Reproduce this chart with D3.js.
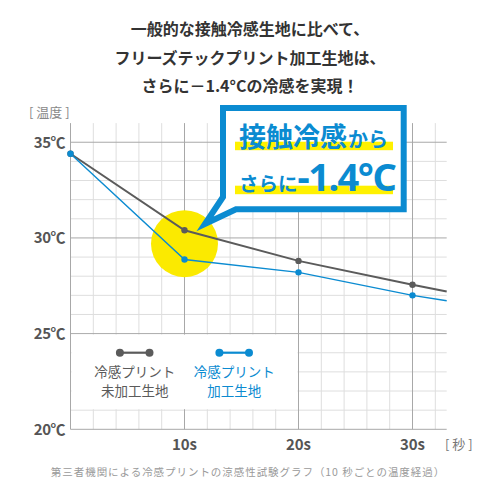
<!DOCTYPE html>
<html><head><meta charset="utf-8">
<script src="https://cdn.jsdelivr.net/npm/d3@7"></script>
<style>
html,body{margin:0;padding:0;background:#fff;}
svg{display:block;font-family:"Noto Sans CJK JP","Noto Sans",sans-serif;}
</style></head>
<body>
<svg id="c" width="500" height="500"></svg>
<script>
const titleLines = ["一般的な接触冷感生地に比べて、","フリーズテックプリント加工生地は、","さらに－1.4°Cの冷感を実現！"];
const times = [0, 10, 20, 30, 33];
const markerTimes = [0, 10, 20, 30];
const untreated = [34.4, 30.4, 28.8, 27.55, 27.2];
const treated = [34.4, 28.87, 28.2, 27.0, 26.72];
const yTicks = [20, 25, 30, 35];
const yTickLabels = ["20℃", "25℃", "30℃", "35℃"];
const xTicks = [10, 20, 30];
const xTickLabels = ["10s", "20s", "30s"];
const seriesNames = [["冷感プリント","未加工生地"],["冷感プリント","加工生地"]];
const calloutLine1 = ["接触冷感", "から"];
const calloutLine2 = ["さらに", "-1.4°C"];
const footer = "第三者機関による冷感プリントの涼感性試験グラフ（10 秒ごとの温度経過）";

const GRAY = "#5b5b5b", BLUE = "#0b8bd1", YEL = "#fbea00";
const svg = d3.select("#c");
const x = d3.scaleLinear().domain([0, 33]).range([70.5, 446.7]);
const y = d3.scaleLinear().domain([20, 36]).range([429.3, 123.1]);

// title
svg.append("g").selectAll("text").data(titleLines).join("text")
  .attr("x", 250).attr("y", (d,i)=>35 + i*28.5)
  .attr("text-anchor","middle").attr("font-size",16).attr("font-weight",700)
  .attr("fill","#333").text(d=>d);

// grid
const g = svg.append("g");
const xMinor = d3.range(0, 33, 2);
const yMinor = d3.range(20, 36, 1);
g.selectAll(".vm").data(xMinor.filter(t=>t%10!==0)).join("line")
  .attr("x1",d=>x(d)).attr("x2",d=>x(d)).attr("y1",y(36)).attr("y2",y(20))
  .attr("stroke","#dedede").attr("stroke-width",1);
g.selectAll(".hm").data(yMinor.filter(t=>t%5!==0)).join("line")
  .attr("x1",x(0)).attr("x2",x(33)).attr("y1",d=>y(d)).attr("y2",d=>y(d))
  .attr("stroke","#dedede").attr("stroke-width",1);
g.selectAll(".vM").data([0,10,20,30]).join("line")
  .attr("x1",d=>x(d)).attr("x2",d=>x(d)).attr("y1",y(36)).attr("y2",y(20))
  .attr("stroke","#a8a8a8").attr("stroke-width",1);
g.selectAll(".hM").data(yTicks).join("line")
  .attr("x1",x(0)).attr("x2",x(33)).attr("y1",d=>y(d)).attr("y2",d=>y(d))
  .attr("stroke","#a8a8a8").attr("stroke-width",1);

// legend white panel
svg.append("rect").attr("x", x(0)+1).attr("y", y(25)+1)
  .attr("width", x(20)-x(0)-2).attr("height", y(21)-y(25)-2).attr("fill","#fff");

// yellow circle
svg.append("circle").attr("cx", x(10)).attr("cy", y(29.7)).attr("r", 33.5).attr("fill", YEL);

// lines
const line = d3.line().x((d,i)=>x(times[i])).y(d=>y(d));
svg.append("path").datum(untreated).attr("d", line).attr("fill","none").attr("stroke",GRAY).attr("stroke-width",2);
svg.append("path").datum(treated).attr("d", line).attr("fill","none").attr("stroke",BLUE).attr("stroke-width",1.4);
svg.selectAll(".dg").data(markerTimes).join("circle")
  .attr("cx",d=>x(d)).attr("cy",(d)=>y(untreated[times.indexOf(d)])).attr("r",3.2).attr("fill",GRAY);
svg.selectAll(".db").data(markerTimes).join("circle")
  .attr("cx",d=>x(d)).attr("cy",(d)=>y(treated[times.indexOf(d)])).attr("r",3.2).attr("fill",BLUE);

// axis labels
svg.selectAll(".yl").data(yTicks).join("text")
  .attr("x", 65).attr("y", d=>y(d)+5.5).attr("text-anchor","end")
  .attr("font-size",15).attr("font-weight",700).attr("fill","#555")
  .attr("font-family","'Noto Sans CJK JP',sans-serif").attr("letter-spacing",-0.5)
  .text((d,i)=>yTickLabels[i]);
svg.append("text").attr("x",29).attr("y",117).attr("font-size",13).attr("fill","#888").text("[ 温度 ]");
svg.selectAll(".xl").data(xTicks).join("text")
  .attr("x", d=>x(d)).attr("y", 450).attr("text-anchor","middle")
  .attr("font-size",15).attr("font-weight",700).attr("fill","#555")
  .text((d,i)=>xTickLabels[i]);
svg.append("text").attr("x",445).attr("y",449).attr("font-size",13).attr("fill","#777").text("[ 秒 ]");

// legend
const lg = [{c:GRAY, cx:134.7, names:seriesNames[0]}, {c:BLUE, cx:234.2, names:seriesNames[1]}];
lg.forEach(o=>{
  const gg = svg.append("g");
  gg.append("line").attr("x1",o.cx-14.8).attr("x2",o.cx+14.8).attr("y1",352.7).attr("y2",352.7).attr("stroke",o.c).attr("stroke-width",2.2);
  gg.selectAll("circle").data([-14.8,14.8]).join("circle").attr("cx",d=>o.cx+d).attr("cy",352.7).attr("r",4).attr("fill",o.c);
  gg.selectAll("text").data(o.names).join("text").attr("x",o.cx).attr("y",(d,i)=>377+i*18.5)
    .attr("text-anchor","middle").attr("font-size",13.5).attr("fill",o.c).text(d=>d);
});

// callout
const co = svg.append("g");
co.append("path")
  .attr("d","M223,108 L403.7,108 L403.7,209.3 L236,209.3 L205,224 L223,197 Z")
  .attr("fill","#fff").attr("stroke",BLUE).attr("stroke-width",6).attr("stroke-linejoin","miter");
co.append("rect").attr("x",235).attr("y",141.7).attr("width",158).attr("height",8.5).attr("fill","#fff100");
co.append("rect").attr("x",235).attr("y",185.7).attr("width",158).attr("height",8.5).attr("fill","#fff100");
const t1 = co.append("text").attr("x",239).attr("y",146.5).attr("fill",BLUE).attr("font-weight",700);
t1.append("tspan").attr("font-size",27).text(calloutLine1[0]);
t1.append("tspan").attr("font-size",20).attr("dx",1).text(calloutLine1[1]);
const t2 = co.append("text").attr("x",239).attr("y",191).attr("fill",BLUE).attr("font-weight",700);
t2.append("tspan").attr("font-size",19.5).text(calloutLine2[0]);
t2.append("tspan").attr("font-size",38).attr("letter-spacing",-1.5).attr("font-family","'Noto Sans','Open Sans',sans-serif").text(calloutLine2[1]);

// footer
svg.append("text").attr("x",248).attr("y",476).attr("text-anchor","middle")
  .attr("font-size",10.5).attr("letter-spacing",0.95).attr("fill","#9a9a9a").text(footer);
</script>
</body></html>
